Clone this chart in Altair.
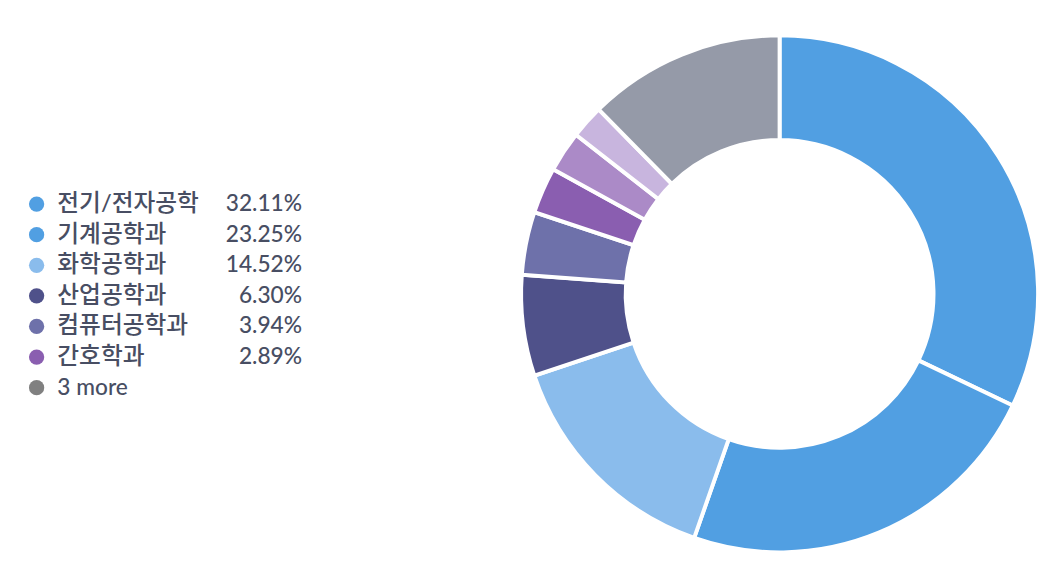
import altair as alt
import pandas as pd

categories = ["전기/전자공학", "기계공학과", "화학공학과", "산업공학과", "컴퓨터공학과", "간호학과", "기타1", "기타2", "기타3"]
values = [32.11, 23.25, 14.52, 6.30, 3.94, 2.89, 2.55, 2.10, 12.34]
colors = ["#519fe2", "#519fe2", "#8abcec", "#4f518a", "#6e71aa", "#8a5eb0", "#ab8ac7", "#c8b5de", "#959aa8"]

legend_labels = ["전기/전자공학", "기계공학과", "화학공학과", "산업공학과", "컴퓨터공학과", "간호학과", "3 more"]
legend_pcts = ["32.11%", "23.25%", "14.52%", "6.30%", "3.94%", "2.89%", ""]
legend_colors = ["#519fe2", "#519fe2", "#8abcec", "#4f518a", "#6e71aa", "#8a5eb0", "#808080"]

FONT = "Lato, Noto Sans CJK KR, sans-serif"
TXT = "#484e63"

pie_df = pd.DataFrame({"cat": categories, "value": values, "order": list(range(len(values))), "color": colors})
leg_df = pd.DataFrame({"label": legend_labels, "pct": legend_pcts, "idx": list(range(len(legend_labels))), "color": legend_colors})

yscale = alt.Scale(domain=[0, 6], range=[177, 363])

base = alt.Chart(leg_df)
dots = base.mark_circle(size=240, opacity=1).encode(
    x=alt.value(29),
    y=alt.Y("idx:Q", scale=yscale, axis=None),
    color=alt.Color("color:N", scale=None, legend=None),
)
klabels = base.transform_filter("datum.idx < 6").mark_text(
    align="left", baseline="middle", font=FONT, fontSize=24, fontWeight=500, color=TXT
).encode(
    x=alt.value(50),
    y=alt.Y("idx:Q", scale=yscale, axis=None),
    text="label:N",
)
elabels = base.transform_filter("datum.idx >= 6").mark_text(
    align="left", baseline="middle", font=FONT, fontSize=23, fontWeight=500, color=TXT
).encode(
    x=alt.value(50),
    y=alt.Y("idx:Q", scale=yscale, axis=None),
    text="label:N",
)
pcts = base.mark_text(align="right", baseline="middle", font=FONT, fontSize=23, fontWeight=500, color=TXT).encode(
    x=alt.value(298),
    y=alt.Y("idx:Q", scale=yscale, axis=None),
    text="pct:N",
)
legend = alt.layer(dots, klabels, elabels, pcts).properties(width=480, height=536)

donut = alt.Chart(pie_df).mark_arc(outerRadius=262, innerRadius=156, stroke="white", strokeWidth=4).encode(
    theta=alt.Theta("value:Q", stack=True),
    order=alt.Order("order:Q"),
    color=alt.Color("color:N", scale=None, legend=None),
).properties(width=520, height=536)

chart = alt.hconcat(legend, donut, spacing=32).properties(
    padding={"top": 16, "left": 0, "right": 0, "bottom": 0}
).configure_view(stroke=None).configure_concat(spacing=32)

chart.save("out.html", embed_options={"renderer": "svg", "actions": False})
